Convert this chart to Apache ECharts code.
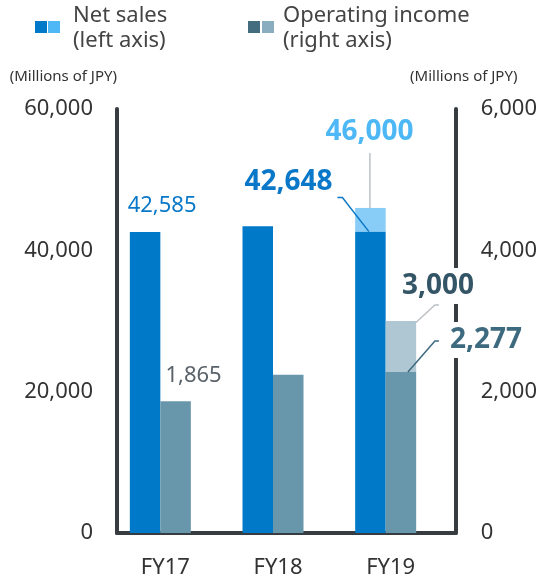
<!DOCTYPE html>
<html><head><meta charset="utf-8">
<script src="https://cdn.jsdelivr.net/npm/echarts@6/dist/echarts.min.js"></script>
<style>html,body{margin:0;padding:0;background:#fff}#c{width:540px;height:580px}</style>
</head><body><div id="c"></div>
<script>
// ---- data ----
const categories = ['FY17', 'FY18', 'FY19'];
const netSales = [42585, 43400, 42648];
const netSalesForecast = [null, null, 46000];
const operatingIncome = [1865, 2240, 2277];
const operatingIncomeForecast = [null, null, 3000];
const leftTicks = [0, 20000, 40000, 60000];
const rightTicks = [0, 2000, 4000, 6000];
const unitText = '(Millions of JPY)';
const legendNet = ['Net sales', '(left axis)'];
const legendOp = ['Operating income', '(right axis)'];

// ---- styles ----
const FONT = '"Noto Sans", sans-serif';
const BAR_W = 30.5;
const C = {
  net: '#0079C8', netLight: '#88CCF8', op: '#6896AA', opLight: '#AFC7D2',
  legNet: '#0079C8', legNetLight: '#4DB8F5', legOp: '#456D80', legOpLight: '#8AAEBF',
  axis: '#373c41', text: '#333'
};
const fmt = v => v.toLocaleString('en-US');

// per-point label styling (index -> style); null = no label
const netLabels = [
  {fontSize: 22, color: '#0A78C8', d: [17, -10]},
  null,
  {fontSize: 28, fontWeight: 'bold', color: '#0A78C8', d: [-82, -31]}
];
const netFcLabels = [null, null,
  {fontSize: 28, fontWeight: 'bold', color: '#4DB8F5', d: [-1, -57]}];
const opLabels = [
  {fontSize: 22, color: '#5A626A', d: [18, -9]},
  null,
  {fontSize: 28, fontWeight: 'bold', color: '#3E6A80', d: [85, -9], bg: true}
];
const opFcLabels = [null, null,
  {fontSize: 28, fontWeight: 'bold', color: '#335566', d: [37, -12], bg: true}];

// leader lines: pixel offsets relative to the bar-top centre (a style, anchored on data)
const leftLeaders = [
  {cat: 2, value: netSales[2], side: -1, color: '#0A78C8', pts: [[-1.5, 0], [-28, -34], [-33, -34]]},
  {cat: 2, value: netSalesForecast[2], side: -1, color: '#BDC1C5', pts: [[-0.5, 0], [-0.5, -55]]}
];
const rightLeaders = [
  {cat: 2, value: operatingIncomeForecast[2], side: 1, color: '#BDC1C5', pts: [[15, 1.5], [34, -16], [38, -16]]},
  {cat: 2, value: operatingIncome[2], side: 1, color: '#3E6A80', pts: [[7, 0], [34, -31], [38, -31]]}
];

function buildData(values, labelStyles, labelValues) {
  return values.map((v, i) => {
    const s = labelStyles[i];
    if (v == null) return null;
    if (!s) return {value: v, label: {show: false}};
    const item = {
      value: v,
      label: {
        show: true, position: 'top', fontFamily: FONT,
        fontSize: s.fontSize, fontWeight: s.fontWeight || 'normal', color: s.color,
        formatter: () => fmt(labelValues[i])
      }
    };
    if (s.bg) { item.label.backgroundColor = '#fff'; item.label.padding = [4, 4, 4, 4]; }
    return item;
  });
}
function layoutFor(labelStyles) {
  return params => {
    const s = labelStyles[params.dataIndex];
    return s ? {dx: s.d[0], dy: s.d[1]} : {};
  };
}
function leaderSeries(leaders, yAxisIndex) {
  return {
    type: 'custom', xAxisIndex: 1, yAxisIndex: yAxisIndex, silent: true, z: 3,
    data: leaders.map((l, k) => [l.cat, l.value, k]),
    renderItem: (params, api) => {
      const l = leaders[api.value(2)];
      const p = api.coord([api.value(0), api.value(1)]);
      const cx = p[0] + l.side * BAR_W / 2;
      return {
        type: 'polyline',
        shape: {points: l.pts.map(q => [cx + q[0], p[1] + q[1]])},
        style: {stroke: l.color, lineWidth: 1.5, fill: null}
      };
    }
  };
}
const netInc = netSalesForecast.map((f, i) => f == null ? null : f - netSales[i]);
const opInc = operatingIncomeForecast.map((f, i) => f == null ? null : f - operatingIncome[i]);

const chart = echarts.init(document.getElementById('c'), null, {renderer: 'canvas'});
const axisLine = {show: true, lineStyle: {color: C.axis, width: 4}};
const tickLabel = {fontFamily: FONT, fontSize: 22, color: C.text};

chart.setOption({
  animation: false,
  backgroundColor: '#fff',
  textStyle: {fontFamily: FONT},
  grid: [
    {left: 117, right: 83, top: 109, bottom: 47},
    {left: 104, right: 98, top: 109, bottom: 47}
  ],
  xAxis: [
    {type: 'category', gridIndex: 0, data: categories, axisLine: axisLine,
     axisTick: {show: false}, axisLabel: {show: false}, splitLine: {show: false}},
    {type: 'category', gridIndex: 1, data: categories, axisLine: {show: false},
     axisTick: {show: false}, axisLabel: Object.assign({margin: 24, padding: [0, 0, 0, 10]}, tickLabel)}
  ],
  yAxis: [
    {type: 'value', gridIndex: 0, position: 'left', min: leftTicks[0], max: leftTicks[leftTicks.length - 1],
     interval: leftTicks[1] - leftTicks[0], axisLine: axisLine, axisTick: {show: false}, splitLine: {show: false},
     axisLabel: Object.assign({margin: 24, formatter: v => fmt(v)}, tickLabel),
     name: unitText, nameLocation: 'end', nameGap: 32,
     nameTextStyle: {fontFamily: FONT, fontSize: 15, color: C.text, align: 'right', verticalAlign: 'middle'}},
    {type: 'value', gridIndex: 0, position: 'right', min: rightTicks[0], max: rightTicks[rightTicks.length - 1],
     interval: rightTicks[1] - rightTicks[0], axisLine: axisLine, axisTick: {show: false}, splitLine: {show: false},
     axisLabel: Object.assign({margin: 25, formatter: v => fmt(v)}, tickLabel),
     name: unitText, nameLocation: 'end', nameGap: 32,
     nameTextStyle: {fontFamily: FONT, fontSize: 15, color: C.text, align: 'center', verticalAlign: 'middle', padding: [0, 0, 0, 16]}},
    {type: 'value', gridIndex: 1, show: false, min: leftTicks[0], max: leftTicks[leftTicks.length - 1]},
    {type: 'value', gridIndex: 1, show: false, min: rightTicks[0], max: rightTicks[rightTicks.length - 1]}
  ],
  series: [
    {name: 'Net sales', type: 'bar', xAxisIndex: 1, yAxisIndex: 2, stack: 'net', barWidth: BAR_W, barGap: '0%',
     itemStyle: {color: C.net}, data: buildData(netSales, netLabels, netSales), labelLayout: layoutFor(netLabels)},
    {name: 'Net sales forecast', type: 'bar', xAxisIndex: 1, yAxisIndex: 2, stack: 'net', barWidth: BAR_W, barGap: '0%',
     itemStyle: {color: C.netLight}, data: buildData(netInc, netFcLabels, netSalesForecast), labelLayout: layoutFor(netFcLabels)},
    {name: 'Operating income', type: 'bar', xAxisIndex: 1, yAxisIndex: 3, stack: 'op', barWidth: BAR_W, barGap: '0%',
     itemStyle: {color: C.op}, data: buildData(operatingIncome, opLabels, operatingIncome), labelLayout: layoutFor(opLabels)},
    {name: 'Operating income forecast', type: 'bar', xAxisIndex: 1, yAxisIndex: 3, stack: 'op', barWidth: BAR_W, barGap: '0%',
     itemStyle: {color: C.opLight}, data: buildData(opInc, opFcLabels, operatingIncomeForecast), labelLayout: layoutFor(opFcLabels)},
    leaderSeries(leftLeaders, 2),
    leaderSeries(rightLeaders, 3)
  ],
  graphic: [
    {type: 'rect', left: 35, top: 21, shape: {width: 12, height: 12}, style: {fill: C.legNet}},
    {type: 'rect', left: 48, top: 21, shape: {width: 12, height: 12}, style: {fill: C.legNetLight}},
    {type: 'text', left: 73, top: 3, style: {text: legendNet.join('\n'), font: '22px ' + FONT, lineHeight: 25, fill: '#444'}},
    {type: 'rect', left: 248, top: 21, shape: {width: 12, height: 12}, style: {fill: C.legOp}},
    {type: 'rect', left: 262, top: 21, shape: {width: 12, height: 12}, style: {fill: C.legOpLight}},
    {type: 'text', left: 283, top: 3, style: {text: legendOp.join('\n'), font: '22px ' + FONT, lineHeight: 25, fill: '#444'}}
  ]
});
</script></body></html>
